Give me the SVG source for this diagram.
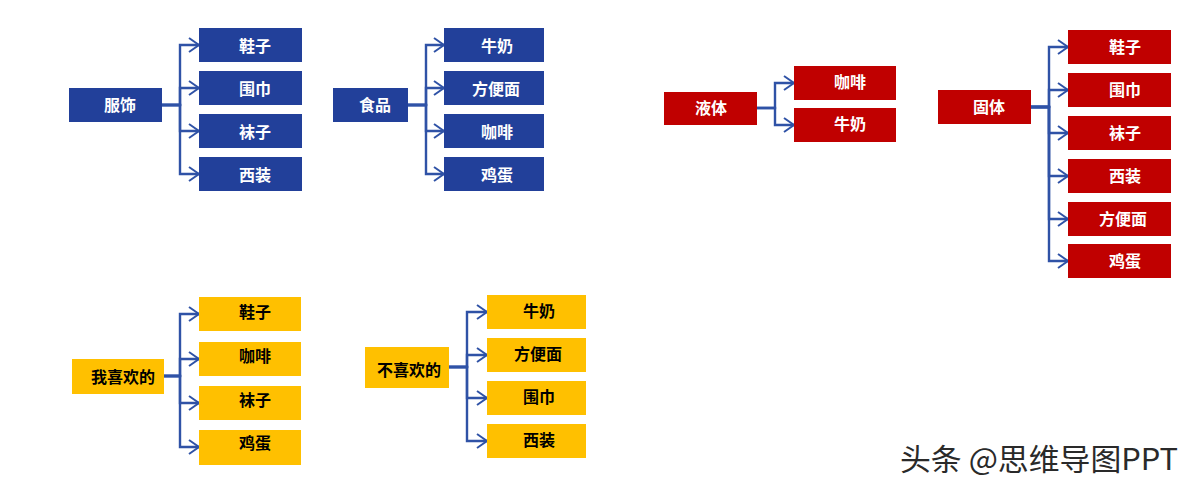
<svg xmlns="http://www.w3.org/2000/svg" width="1197" height="487" viewBox="0 0 1197 487">
<defs>
<style>
.b{fill:#22409A}
.r{fill:#C00000}
.y{fill:#FFC000}
.t{font-family:"Noto Sans CJK SC","Liberation Sans",sans-serif;font-size:16px;font-weight:bold;text-anchor:middle;dominant-baseline:central}
.w{fill:#FFFFFF}
.k{fill:#000000}
.c{fill:none;stroke:#2F52A6;stroke-width:2.4;marker-end:url(#ah)}
.wm{font-family:"Noto Sans CJK SC","Liberation Sans",sans-serif;font-size:30px;fill:#2a2a2a}
</style>
<marker id="ah" markerUnits="userSpaceOnUse" markerWidth="14" markerHeight="18" refX="11" refY="8" orient="auto">
<path d="M1,1 L11,8 L1,15" fill="none" stroke="#2F52A6" stroke-width="2"/>
</marker>
</defs>
<rect width="1197" height="487" fill="#FFFFFF"/>
<g id="connectors">
<path class="c" d="M162,105 H180 V45 H199"/>
<path class="c" d="M162,105 H180 V88 H199"/>
<path class="c" d="M162,105 H180 V131 H199"/>
<path class="c" d="M162,105 H180 V174 H199"/>
<path class="c" d="M408,105 H426 V45 H444"/>
<path class="c" d="M408,105 H426 V88 H444"/>
<path class="c" d="M408,105 H426 V131 H444"/>
<path class="c" d="M408,105 H426 V174 H444"/>
<path class="c" d="M757,108 H775 V83 H794"/>
<path class="c" d="M757,108 H775 V125 H794"/>
<path class="c" d="M1031,107 H1049 V47 H1068"/>
<path class="c" d="M1031,107 H1049 V90 H1068"/>
<path class="c" d="M1031,107 H1049 V133 H1068"/>
<path class="c" d="M1031,107 H1049 V176 H1068"/>
<path class="c" d="M1031,107 H1049 V219 H1068"/>
<path class="c" d="M1031,107 H1049 V261 H1068"/>
<path class="c" d="M164,376 H180 V314 H199"/>
<path class="c" d="M164,376 H180 V359 H199"/>
<path class="c" d="M164,376 H180 V403 H199"/>
<path class="c" d="M164,376 H180 V447 H199"/>
<path class="c" d="M449,367 H467 V312 H487"/>
<path class="c" d="M449,367 H467 V355 H487"/>
<path class="c" d="M449,367 H467 V398 H487"/>
<path class="c" d="M449,367 H467 V441 H487"/>
</g>
<g id="n-fushi"><rect class="b" x="69" y="88" width="93" height="34"/><text class="t w" x="120" y="104">服饰</text></g>
<g id="n-fushi-1"><rect class="b" x="199" y="28" width="103" height="34"/><text class="t w" x="255" y="45">鞋子</text></g>
<g id="n-fushi-2"><rect class="b" x="199" y="71" width="103" height="34"/><text class="t w" x="255" y="88">围巾</text></g>
<g id="n-fushi-3"><rect class="b" x="199" y="114" width="103" height="34"/><text class="t w" x="255" y="131">袜子</text></g>
<g id="n-fushi-4"><rect class="b" x="199" y="157" width="103" height="34"/><text class="t w" x="255" y="174">西装</text></g>
<g id="n-shipin"><rect class="b" x="333" y="88" width="75" height="34"/><text class="t w" x="375" y="104">食品</text></g>
<g id="n-shipin-1"><rect class="b" x="444" y="28" width="100" height="34"/><text class="t w" x="497" y="45">牛奶</text></g>
<g id="n-shipin-2"><rect class="b" x="444" y="71" width="100" height="34"/><text class="t w" x="496" y="88">方便面</text></g>
<g id="n-shipin-3"><rect class="b" x="444" y="114" width="100" height="34"/><text class="t w" x="497" y="131">咖啡</text></g>
<g id="n-shipin-4"><rect class="b" x="444" y="157" width="100" height="34"/><text class="t w" x="497" y="174">鸡蛋</text></g>
<g id="n-yeti"><rect class="r" x="664" y="92" width="93" height="33"/><text class="t w" x="711" y="107">液体</text></g>
<g id="n-yeti-1"><rect class="r" x="794" y="66" width="102" height="34"/><text class="t w" x="850" y="81">咖啡</text></g>
<g id="n-yeti-2"><rect class="r" x="794" y="108" width="102" height="34"/><text class="t w" x="850" y="123">牛奶</text></g>
<g id="n-guti"><rect class="r" x="938" y="90" width="93" height="34"/><text class="t w" x="989" y="106">固体</text></g>
<g id="n-guti-1"><rect class="r" x="1068" y="30" width="103" height="34"/><text class="t w" x="1125" y="46">鞋子</text></g>
<g id="n-guti-2"><rect class="r" x="1068" y="73" width="103" height="34"/><text class="t w" x="1125" y="89">围巾</text></g>
<g id="n-guti-3"><rect class="r" x="1068" y="116" width="103" height="34"/><text class="t w" x="1125" y="132">袜子</text></g>
<g id="n-guti-4"><rect class="r" x="1068" y="159" width="103" height="34"/><text class="t w" x="1125" y="175">西装</text></g>
<g id="n-guti-5"><rect class="r" x="1068" y="202" width="103" height="34"/><text class="t w" x="1123" y="218">方便面</text></g>
<g id="n-guti-6"><rect class="r" x="1068" y="244" width="103" height="34"/><text class="t w" x="1125" y="260">鸡蛋</text></g>
<g id="n-xihuan"><rect class="y" x="72" y="359" width="92" height="35"/><text class="t k" x="123" y="376">我喜欢的</text></g>
<g id="n-xihuan-1"><rect class="y" x="199" y="297" width="102" height="34"/><text class="t k" x="255" y="311">鞋子</text></g>
<g id="n-xihuan-2"><rect class="y" x="199" y="342" width="102" height="34"/><text class="t k" x="255" y="355">咖啡</text></g>
<g id="n-xihuan-3"><rect class="y" x="199" y="386" width="102" height="34"/><text class="t k" x="255" y="399">袜子</text></g>
<g id="n-xihuan-4"><rect class="y" x="199" y="430" width="102" height="35"/><text class="t k" x="255" y="442">鸡蛋</text></g>
<g id="n-buxihuan"><rect class="y" x="365" y="347" width="84" height="41"/><text class="t k" x="409" y="369">不喜欢的</text></g>
<g id="n-buxihuan-1"><rect class="y" x="487" y="295" width="99" height="34"/><text class="t k" x="539" y="310">牛奶</text></g>
<g id="n-buxihuan-2"><rect class="y" x="487" y="338" width="99" height="34"/><text class="t k" x="538" y="353">方便面</text></g>
<g id="n-buxihuan-3"><rect class="y" x="487" y="381" width="99" height="34"/><text class="t k" x="539" y="396">围巾</text></g>
<g id="n-buxihuan-4"><rect class="y" x="487" y="424" width="99" height="34"/><text class="t k" x="539" y="439">西装</text></g>
<text class="wm" x="900" y="470" textLength="278" lengthAdjust="spacingAndGlyphs">头条 @思维导图PPT</text>
</svg>
